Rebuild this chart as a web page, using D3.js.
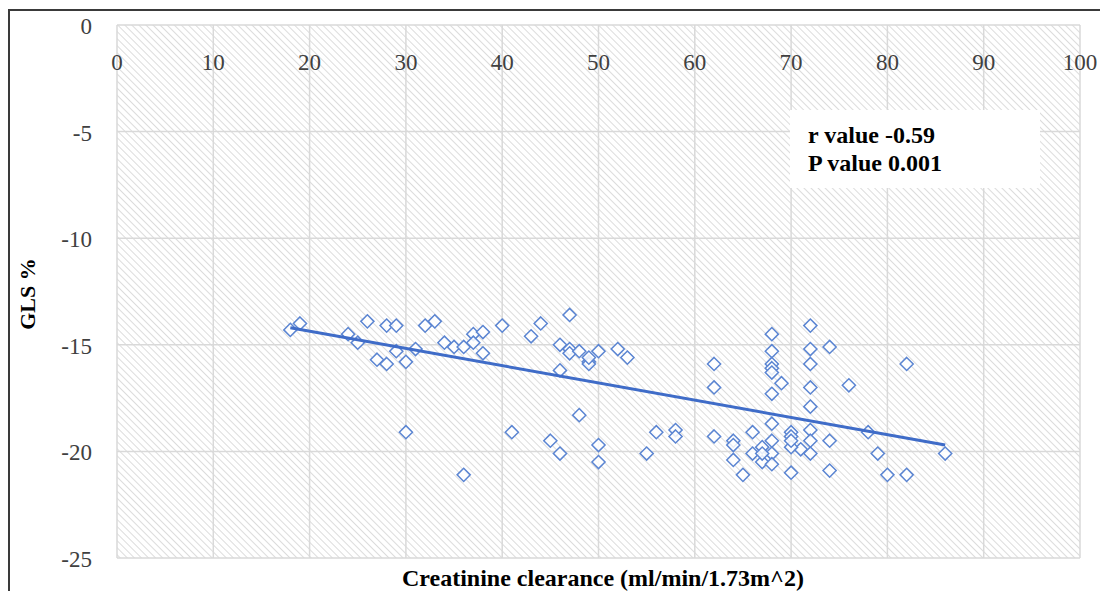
<!DOCTYPE html>
<html>
<head>
<meta charset="utf-8">
<script src="https://cdn.jsdelivr.net/npm/d3@7"></script>
<style>
  body { margin: 0; background: #fff; }
  text { font-family: "Liberation Serif", "Times New Roman", serif; }
</style>
</head>
<body>
<svg width="1100" height="591"></svg>
<script>
// Data: creatinine clearance vs GLS %
var clearance = [18, 19, 24, 25, 26, 28, 29, 27, 28, 29, 30, 31, 30, 32, 33, 34, 35, 36, 37, 38,
  37, 38, 40, 44, 43, 47, 46, 47, 47, 48, 49, 50, 46, 48, 41, 45, 46, 50, 50, 36,
  49, 52, 53, 62, 62, 55, 56, 58, 58, 62, 64, 64, 64, 65, 66, 66, 67, 67,
  68, 68, 68, 68, 68, 69, 68, 72, 72, 74, 72, 72, 72, 76, 82, 68, 68, 70, 70, 71,
  72, 72, 74, 72, 68, 68, 67, 70, 74, 78, 79, 80, 82, 86, 70, 70, 49];
var gls = [-14.3, -14.0, -14.5, -14.9, -13.9, -14.1, -14.1, -15.7, -15.9, -15.3, -15.8, -15.2, -19.1, -14.1, -13.9, -14.9, -15.1, -15.1, -14.5, -14.4,
  -14.9, -15.4, -14.1, -14.0, -14.6, -13.6, -15.0, -15.2, -15.4, -15.3, -15.8, -15.3, -16.2, -18.3, -19.1, -19.5, -20.1, -19.7, -20.5, -21.1,
  -15.9, -15.2, -15.6, -15.9, -17.0, -20.1, -19.1, -19.0, -19.3, -19.3, -19.5, -19.7, -20.4, -21.1, -19.1, -20.1, -19.8, -20.5,
  -14.5, -15.3, -15.9, -16.1, -16.3, -16.8, -17.3, -14.1, -15.2, -15.1, -15.9, -17.0, -17.9, -16.9, -15.9, -18.7, -19.5, -19.1, -19.3, -19.9,
  -19.0, -19.5, -19.5, -20.1, -20.1, -20.6, -20.1, -21.0, -20.9, -19.1, -20.1, -21.1, -21.1, -20.1, -19.8, -19.5, -15.6];

// Linear trend line end points
var trendX = [18, 86];
var trendY = [-14.2, -19.7];

var xTicks = [0, 10, 20, 30, 40, 50, 60, 70, 80, 90, 100];
var yTicks = [0, -5, -10, -15, -20, -25];

var svg = d3.select("svg");

var x = d3.scaleLinear().domain([0, 100]).range([117, 1080]);
var y = d3.scaleLinear().domain([0, -25]).range([25, 558]);

// hatch pattern for the plot area
var defs = svg.append("defs");
var pat = defs.append("pattern")
    .attr("id", "hatch")
    .attr("patternUnits", "userSpaceOnUse")
    .attr("width", 5).attr("height", 5)
    .attr("patternTransform", "rotate(-45)");
pat.append("rect").attr("width", 5).attr("height", 5).attr("fill", "#fff");
pat.append("line")
    .attr("x1", 0).attr("y1", 0).attr("x2", 0).attr("y2", 5)
    .attr("stroke", "#d4d4d4").attr("stroke-width", 1.6);

// outer frame
svg.append("rect")
    .attr("x", 9).attr("y", 10)
    .attr("width", 1200).attr("height", 700)
    .attr("fill", "none")
    .attr("stroke", "#3a3a3a").attr("stroke-width", 2);

svg.append("rect")
    .attr("x", x(0)).attr("y", y(0))
    .attr("width", x(100) - x(0)).attr("height", y(-25) - y(0))
    .attr("fill", "url(#hatch)");

// gridlines
svg.append("g").selectAll("line")
    .data(xTicks)
    .enter()
    .append("line")
      .attr("x1", function(d){ return x(d) }).attr("x2", function(d){ return x(d) })
      .attr("y1", y(0)).attr("y2", y(-25))
      .attr("stroke", "#d9d9d9").attr("stroke-width", 1.5);

svg.append("g").selectAll("line")
    .data(yTicks)
    .enter()
    .append("line")
      .attr("x1", x(0)).attr("x2", x(100))
      .attr("y1", function(d){ return y(d) }).attr("y2", function(d){ return y(d) })
      .attr("stroke", "#d9d9d9").attr("stroke-width", 1.5);

// tick labels
svg.append("g").selectAll("text")
    .data(xTicks)
    .enter()
    .append("text")
      .attr("x", function(d){ return x(d) })
      .attr("y", 70)
      .attr("text-anchor", "middle")
      .style("font-size", "23px")
      .style("fill", "#404040")
      .text(function(d){ return d });

svg.append("g").selectAll("text")
    .data(yTicks)
    .enter()
    .append("text")
      .attr("x", 92)
      .attr("y", function(d){ return y(d) + 9 })
      .attr("text-anchor", "end")
      .style("font-size", "23px")
      .style("fill", "#404040")
      .text(function(d){ return d });

// stats box
svg.append("rect")
    .attr("x", 790).attr("y", 110).attr("width", 250).attr("height", 78)
    .attr("fill", "#fff");
svg.append("text").attr("x", 808).attr("y", 143)
    .style("font-size", "24px").style("font-weight", "bold")
    .text("r value -0.59");
svg.append("text").attr("x", 808).attr("y", 171)
    .style("font-size", "24px").style("font-weight", "bold")
    .text("P value 0.001");

// points
var pts = d3.zip(clearance, gls);
var diamond = d3.symbol().type(d3.symbolDiamond2).size(110);
svg.append("g").selectAll("path")
    .data(pts)
    .enter()
    .append("path")
      .attr("d", diamond)
      .attr("transform", function(d){ return "translate(" + x(d[0]) + "," + y(d[1]) + ")" })
      .attr("fill", "#fff")
      .attr("fill-opacity", 0.85)
      .attr("stroke", "#5b85d2")
      .attr("stroke-width", 1.5);

// trend line
svg.append("line")
    .attr("x1", x(trendX[0])).attr("y1", y(trendY[0]))
    .attr("x2", x(trendX[1])).attr("y2", y(trendY[1]))
    .attr("stroke", "#3f6cc8").attr("stroke-width", 3);

// axis titles
svg.append("text")
    .attr("transform", "translate(35,294) rotate(-90)")
    .attr("text-anchor", "middle")
    .style("font-size", "22px").style("font-weight", "bold")
    .text("GLS %");

svg.append("text")
    .attr("x", 603).attr("y", 586)
    .attr("text-anchor", "middle")
    .style("font-size", "24px").style("font-weight", "bold")
    .text("Creatinine clearance (ml/min/1.73m^2)");
</script>
</body>
</html>
